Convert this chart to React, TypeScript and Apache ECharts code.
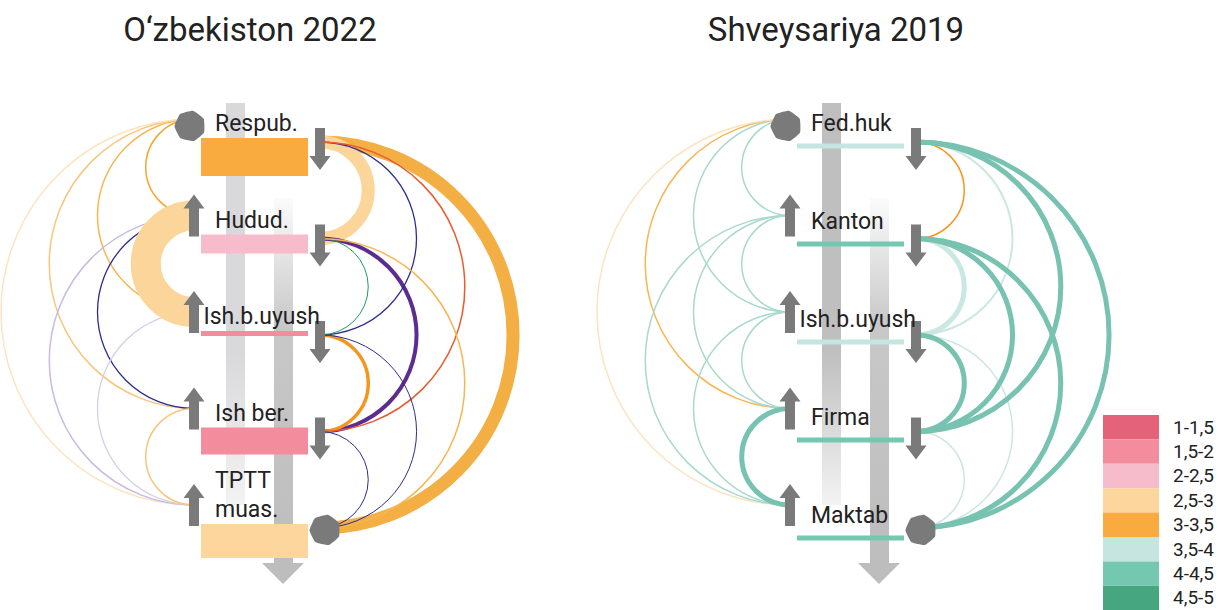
import React, { useEffect, useRef } from 'react';
import * as echarts from 'echarts';

// ---------------- data ----------------
const panelTitles = ['O‘zbekiston 2022', 'Shveysariya 2019'];

const uzLevels = ['Respub.', 'Hudud.', 'Ish.b.uyush', 'Ish ber.', 'TPTT\nmuas.'];
const chLevels = ['Fed.huk', 'Kanton', 'Ish.b.uyush', 'Firma', 'Maktab'];

// average rating of each level (coloured with the legend scale)
const uzScores = [3.2, 2.2, 1.8, 1.7, 2.8];
const chScores = [3.7, 4.1, 3.6, 4.2, 4.3];

// bar weight of each level
const uzBarWeight = [3.8, 1.9, 0.5, 2.7, 3.4];
const chBarWeight = [0.5, 0.5, 0.5, 0.5, 0.5];

// legend scale
const legendMins = [1, 1.5, 2, 2.5, 3, 3.5, 4, 4.5];
const legendMaxs = [1.5, 2, 2.5, 3, 3.5, 4, 4.5, 5];
const legendLabels = ['1-1,5', '1,5-2', '2-2,5', '2,5-3', '3-3,5', '3,5-4', '4-4,5', '4,5-5'];
const legendColors = ['#e5637a', '#f38c9c', '#f7bccb', '#fcd69d', '#f9ab40', '#c6e5e0', '#74c8b0', '#46a67f'];

// flows: [fromLevel, toLevel, weight, colourKey]
const uzUpFlows: [number, number, number, string][] = [
  [0, 1, 1.5, 'orange'],
  [0, 2, 1.5, 'orangeSoft'],
  [0, 3, 1.5, 'orangeLight'],
  [0, 4, 1.5, 'peachFaint'],
  [1, 3, 1.3, 'navy'],
  [1, 4, 1.5, 'lavender'],
  [2, 4, 1.3, 'lavenderLight'],
  [3, 4, 1.5, 'orangeLight'],
  [1, 2, 30, 'peach'],
];
const uzDownFlows: [number, number, number, string][] = [
  [0, 4, 13, 'amber'],
  [0, 1, 13, 'peach'],
  [1, 3, 4, 'purple'],
  [2, 3, 3.5, 'orangeDeep'],
  [0, 2, 1.3, 'navy'],
  [0, 3, 1.5, 'red'],
  [1, 2, 1, 'green'],
  [1, 4, 1.5, 'orangeSoft'],
  [2, 4, 1, 'navy'],
  [3, 4, 1, 'navy'],
];
const chUpFlows: [number, number, number, string][] = [
  [0, 1, 1.5, 'tealLight'],
  [0, 2, 1.5, 'tealLight'],
  [0, 3, 1.5, 'orangeSoft'],
  [0, 4, 1.5, 'peachFaint'],
  [1, 2, 1.5, 'tealLight'],
  [1, 3, 1.5, 'tealLight'],
  [1, 4, 1.5, 'tealLight'],
  [2, 3, 1.5, 'tealLight'],
  [2, 4, 1.5, 'tealLight'],
  [3, 4, 5, 'teal'],
];
const chDownFlows: [number, number, number, string][] = [
  [1, 2, 5, 'tealPale'],
  [0, 2, 2, 'tealPale'],
  [2, 4, 1.5, 'tealPale'],
  [3, 4, 1.5, 'tealPale'],
  [0, 1, 1.5, 'orangeDeep'],
  [0, 4, 5, 'teal'],
  [0, 3, 5, 'teal'],
  [1, 4, 5, 'teal'],
  [1, 3, 5, 'teal'],
  [2, 3, 5, 'teal'],
];

// ---------------- styles ----------------
const PALETTE: Record<string, string> = {
  orange: '#f6a42c',
  orangeSoft: '#f8b652',
  orangeLight: '#fac57c',
  peachFaint: '#fde4c0',
  peach: '#fcd59b',
  amber: '#f3ae44',
  orangeDeep: '#f7941d',
  red: '#eb5a2e',
  navy: '#2b2e8c',
  purple: '#5c2d91',
  lavender: '#c8bbdf',
  lavenderLight: '#d8cee8',
  green: '#1f9d55',
  tealLight: '#a8d9cc',
  teal: '#77c2b0',
  tealPale: '#cae8e1',
};
const ARROW = '#7a7a7a';
const TEXT = '#222';
const FONT = 'Roboto';
const LEFT_DY = -5;
const RIGHT_DY = 18;

const scoreColor = (s: number) => {
  for (let i = 0; i < legendMins.length; i++) if (s >= legendMins[i] && s < legendMaxs[i]) return legendColors[i];
  return legendColors[legendColors.length - 1];
};

let measureCtx: CanvasRenderingContext2D | null = null;
const measure = (text: string, font: string) => {
  if (!measureCtx) measureCtx = document.createElement('canvas').getContext('2d');
  if (!measureCtx) return 0;
  measureCtx.font = font;
  return Math.max(...text.split('\n').map((t) => measureCtx!.measureText(t).width));
};

const heptagon = (cx: number, cy: number) => {
  const pts: number[][] = [];
  for (let k = 0; k < 7; k++) {
    const a = -Math.PI / 2 + (k * 2 * Math.PI) / 7 + 0.2;
    pts.push([cx + 15.5 * Math.cos(a), cy + 15.5 * Math.sin(a)]);
  }
  return { type: 'polygon', shape: { points: pts, smooth: 0.12 }, style: { fill: ARROW } };
};
const upArrow = (x: number, top: number) => ({
  type: 'polygon',
  shape: {
    points: [
      [x, top], [x + 10.5, top + 14], [x + 5, top + 14], [x + 5, top + 42],
      [x - 5, top + 42], [x - 5, top + 14], [x - 10.5, top + 14],
    ],
  },
  style: { fill: ARROW },
});
const downArrow = (x: number, top: number) => ({
  type: 'polygon',
  shape: {
    points: [
      [x - 5, top], [x + 5, top], [x + 5, top + 28], [x + 10.5, top + 28],
      [x, top + 42], [x - 10.5, top + 28], [x - 5, top + 28],
    ],
  },
  style: { fill: ARROW },
});

function decorSeries(gi: number, upColor: string) {
  return {
    type: 'custom', coordinateSystem: 'cartesian2d', xAxisIndex: gi, yAxisIndex: gi,
    silent: true, z: 1, clip: false,
    data: [[0, 0]],
    renderItem: (_p: any, api: any) => {
      const [x0, y0] = api.coord([0, 0]);
      return {
        type: 'group',
        children: [
          {
            type: 'rect', shape: { x: x0 + 32, y: y0 - 21, width: 19, height: 402 },
            style: {
              fill: new echarts.graphic.LinearGradient(0, 0, 0, 1, [
                { offset: 0, color: upColor }, { offset: 0.62, color: upColor }, { offset: 1, color: '#f3f3f3' },
              ]),
            },
          },
          {
            type: 'rect', shape: { x: x0 + 80, y: y0 + 74, width: 19, height: 365 },
            style: {
              fill: new echarts.graphic.LinearGradient(0, 0, 0, 1, [
                { offset: 0, color: '#fbfbfb' }, { offset: 0.35, color: '#c8c8c8' }, { offset: 1, color: '#bdbdbd' },
              ]),
            },
          },
          {
            type: 'polygon',
            shape: { points: [[x0 + 68, y0 + 439], [x0 + 110, y0 + 439], [x0 + 89, y0 + 460]] },
            style: { fill: '#bdbdbd' },
          },
        ],
      };
    },
  };
}

function barSeries(gi: number, scores: number[], weights: number[], dy: number, drift: number) {
  return {
    type: 'custom', coordinateSystem: 'cartesian2d', xAxisIndex: gi, yAxisIndex: gi,
    silent: true, z: 2, clip: false,
    data: scores.map((_, i) => [0, i]),
    renderItem: (params: any, api: any) => {
      const i = params.dataIndex;
      const [x0, y] = api.coord([0, api.value(1)]);
      const [x1] = api.coord([1, api.value(1)]);
      return {
        type: 'rect',
        shape: { x: x0 + 7, y: y + dy + drift * i, width: x1 - x0 - 19, height: weights[i] * 10 },
        style: { fill: scoreColor(scores[i]) },
      };
    },
  };
}

function arcSeries(gi: number, flows: [number, number, number, string][], side: number) {
  return {
    type: 'custom', coordinateSystem: 'cartesian2d', xAxisIndex: gi, yAxisIndex: gi,
    silent: true, z: 3, clip: false,
    data: flows.map((f) => [side, f[0], f[1], f[2]]),
    renderItem: (params: any, api: any) => {
      const f = flows[params.dataIndex];
      const s = api.value(0);
      const p1 = api.coord([s, api.value(1)]);
      const p2 = api.coord([s, api.value(2)]);
      const dy = s === 0 ? LEFT_DY : RIGHT_DY;
      const ya = p1[1] + dy;
      const yb = p2[1] + dy;
      return {
        type: 'arc',
        shape: {
          cx: p1[0], cy: (ya + yb) / 2, r: Math.abs(yb - ya) / 2,
          startAngle: s === 0 ? Math.PI / 2 : -Math.PI / 2,
          endAngle: s === 0 ? Math.PI * 1.5 : Math.PI / 2,
          clockwise: true,
        },
        style: { stroke: PALETTE[f[3]], lineWidth: api.value(3), fill: 'none' },
      };
    },
  };
}

function markerSeries(gi: number, levels: string[]) {
  return {
    type: 'custom', coordinateSystem: 'cartesian2d', xAxisIndex: gi, yAxisIndex: gi,
    silent: true, z: 4, clip: false,
    data: levels.map((_, i) => [0, i]),
    renderItem: (params: any, api: any) => {
      const i = params.dataIndex;
      const [x0, y] = api.coord([0, api.value(1)]);
      const [x1] = api.coord([1, api.value(1)]);
      const children: any[] = [];
      children.push(i === 0 ? heptagon(x0 - 4, y + 2) : upArrow(x0, y - 26));
      children.push(i === levels.length - 1 ? heptagon(x1 + 5, y + 20) : downArrow(x1, y + 4));
      return { type: 'group', children };
    },
  };
}

function labelSeries(gi: number, levels: string[], drift: number) {
  return {
    type: 'custom', coordinateSystem: 'cartesian2d', xAxisIndex: gi, yAxisIndex: gi,
    silent: true, z: 5, clip: false,
    data: levels.map((_, i) => [0, i]),
    renderItem: (params: any, api: any) => {
      const i = params.dataIndex;
      const text = levels[i];
      const [x0, y] = api.coord([0, api.value(1)]);
      const [x1] = api.coord([1, api.value(1)]);
      const w = measure(text, `23px ${FONT}`);
      return {
        type: 'text',
        x: Math.min(x0 + 21, x1 - w),
        y: y + 14 + drift * i,
        style: {
          text, fill: TEXT, fontSize: 23, fontFamily: FONT,
          align: 'left', verticalAlign: 'bottom', lineHeight: 29,
        },
      };
    },
  };
}

export default function App() {
  const ref = useRef<HTMLDivElement>(null);
  useEffect(() => {
    if (!ref.current) return;
    const chart = echarts.init(ref.current, undefined, { renderer: 'svg' });
    const titleEl = (text: string, x: number) => ({
      type: 'text', x, y: 29, silent: true,
      style: {
        text, fill: TEXT, fontSize: 33, fontFamily: FONT,
        align: 'center', verticalAlign: 'middle', textAlign: 'center', textVerticalAlign: 'middle',
      },
    });
    const option: any = {
      animation: false,
      backgroundColor: '#ffffff',
      graphic: { elements: [titleEl(panelTitles[0], 250), titleEl(panelTitles[1], 836)] },
      grid: [
        { left: 194, top: 124, width: 126, height: 386, show: false },
        { left: 790, top: 124, width: 126, height: 386, show: false },
      ],
      xAxis: [
        { type: 'value', gridIndex: 0, min: 0, max: 1, show: false },
        { type: 'value', gridIndex: 1, min: 0, max: 1, show: false },
      ],
      yAxis: [
        { type: 'value', gridIndex: 0, min: 0, max: 4, inverse: true, show: false },
        { type: 'value', gridIndex: 1, min: 0, max: 4, inverse: true, show: false },
      ],
      visualMap: {
        type: 'piecewise',
        seriesIndex: 0,
        dimension: 0,
        orient: 'vertical',
        inverse: true,
        align: 'left',
        left: 1103,
        top: 415,
        padding: 0,
        itemWidth: 56,
        itemHeight: 24.4,
        itemGap: 0,
        itemSymbol: 'rect',
        textGap: 14,
        selectedMode: false,
        hoverLink: false,
        textStyle: { fontSize: 19, fontFamily: FONT, color: TEXT },
        pieces: legendLabels.map((label, i) => ({
          min: legendMins[i], max: legendMaxs[i], label, color: legendColors[i],
        })),
      },
      series: [
        { type: 'custom', name: 'legend', coordinateSystem: 'none', data: [], renderItem: () => null },
        decorSeries(0, '#d9d9dc'),
        decorSeries(1, '#bfbfbf'),
        barSeries(0, uzScores, uzBarWeight, 14, 0),
        barSeries(1, chScores, chBarWeight, 19.5, 1.5),
        arcSeries(0, uzUpFlows, 0),
        arcSeries(0, uzDownFlows, 1),
        arcSeries(1, chUpFlows, 0),
        arcSeries(1, chDownFlows, 1),
        markerSeries(0, uzLevels),
        markerSeries(1, chLevels),
        labelSeries(0, uzLevels, 0),
        labelSeries(1, chLevels, 1.6),
      ],
    };
    chart.setOption(option);
    return () => chart.dispose();
  }, []);
  return <div ref={ref} style={{ position: 'fixed', left: 0, top: 0, width: 1219, height: 610 }} />;
}
